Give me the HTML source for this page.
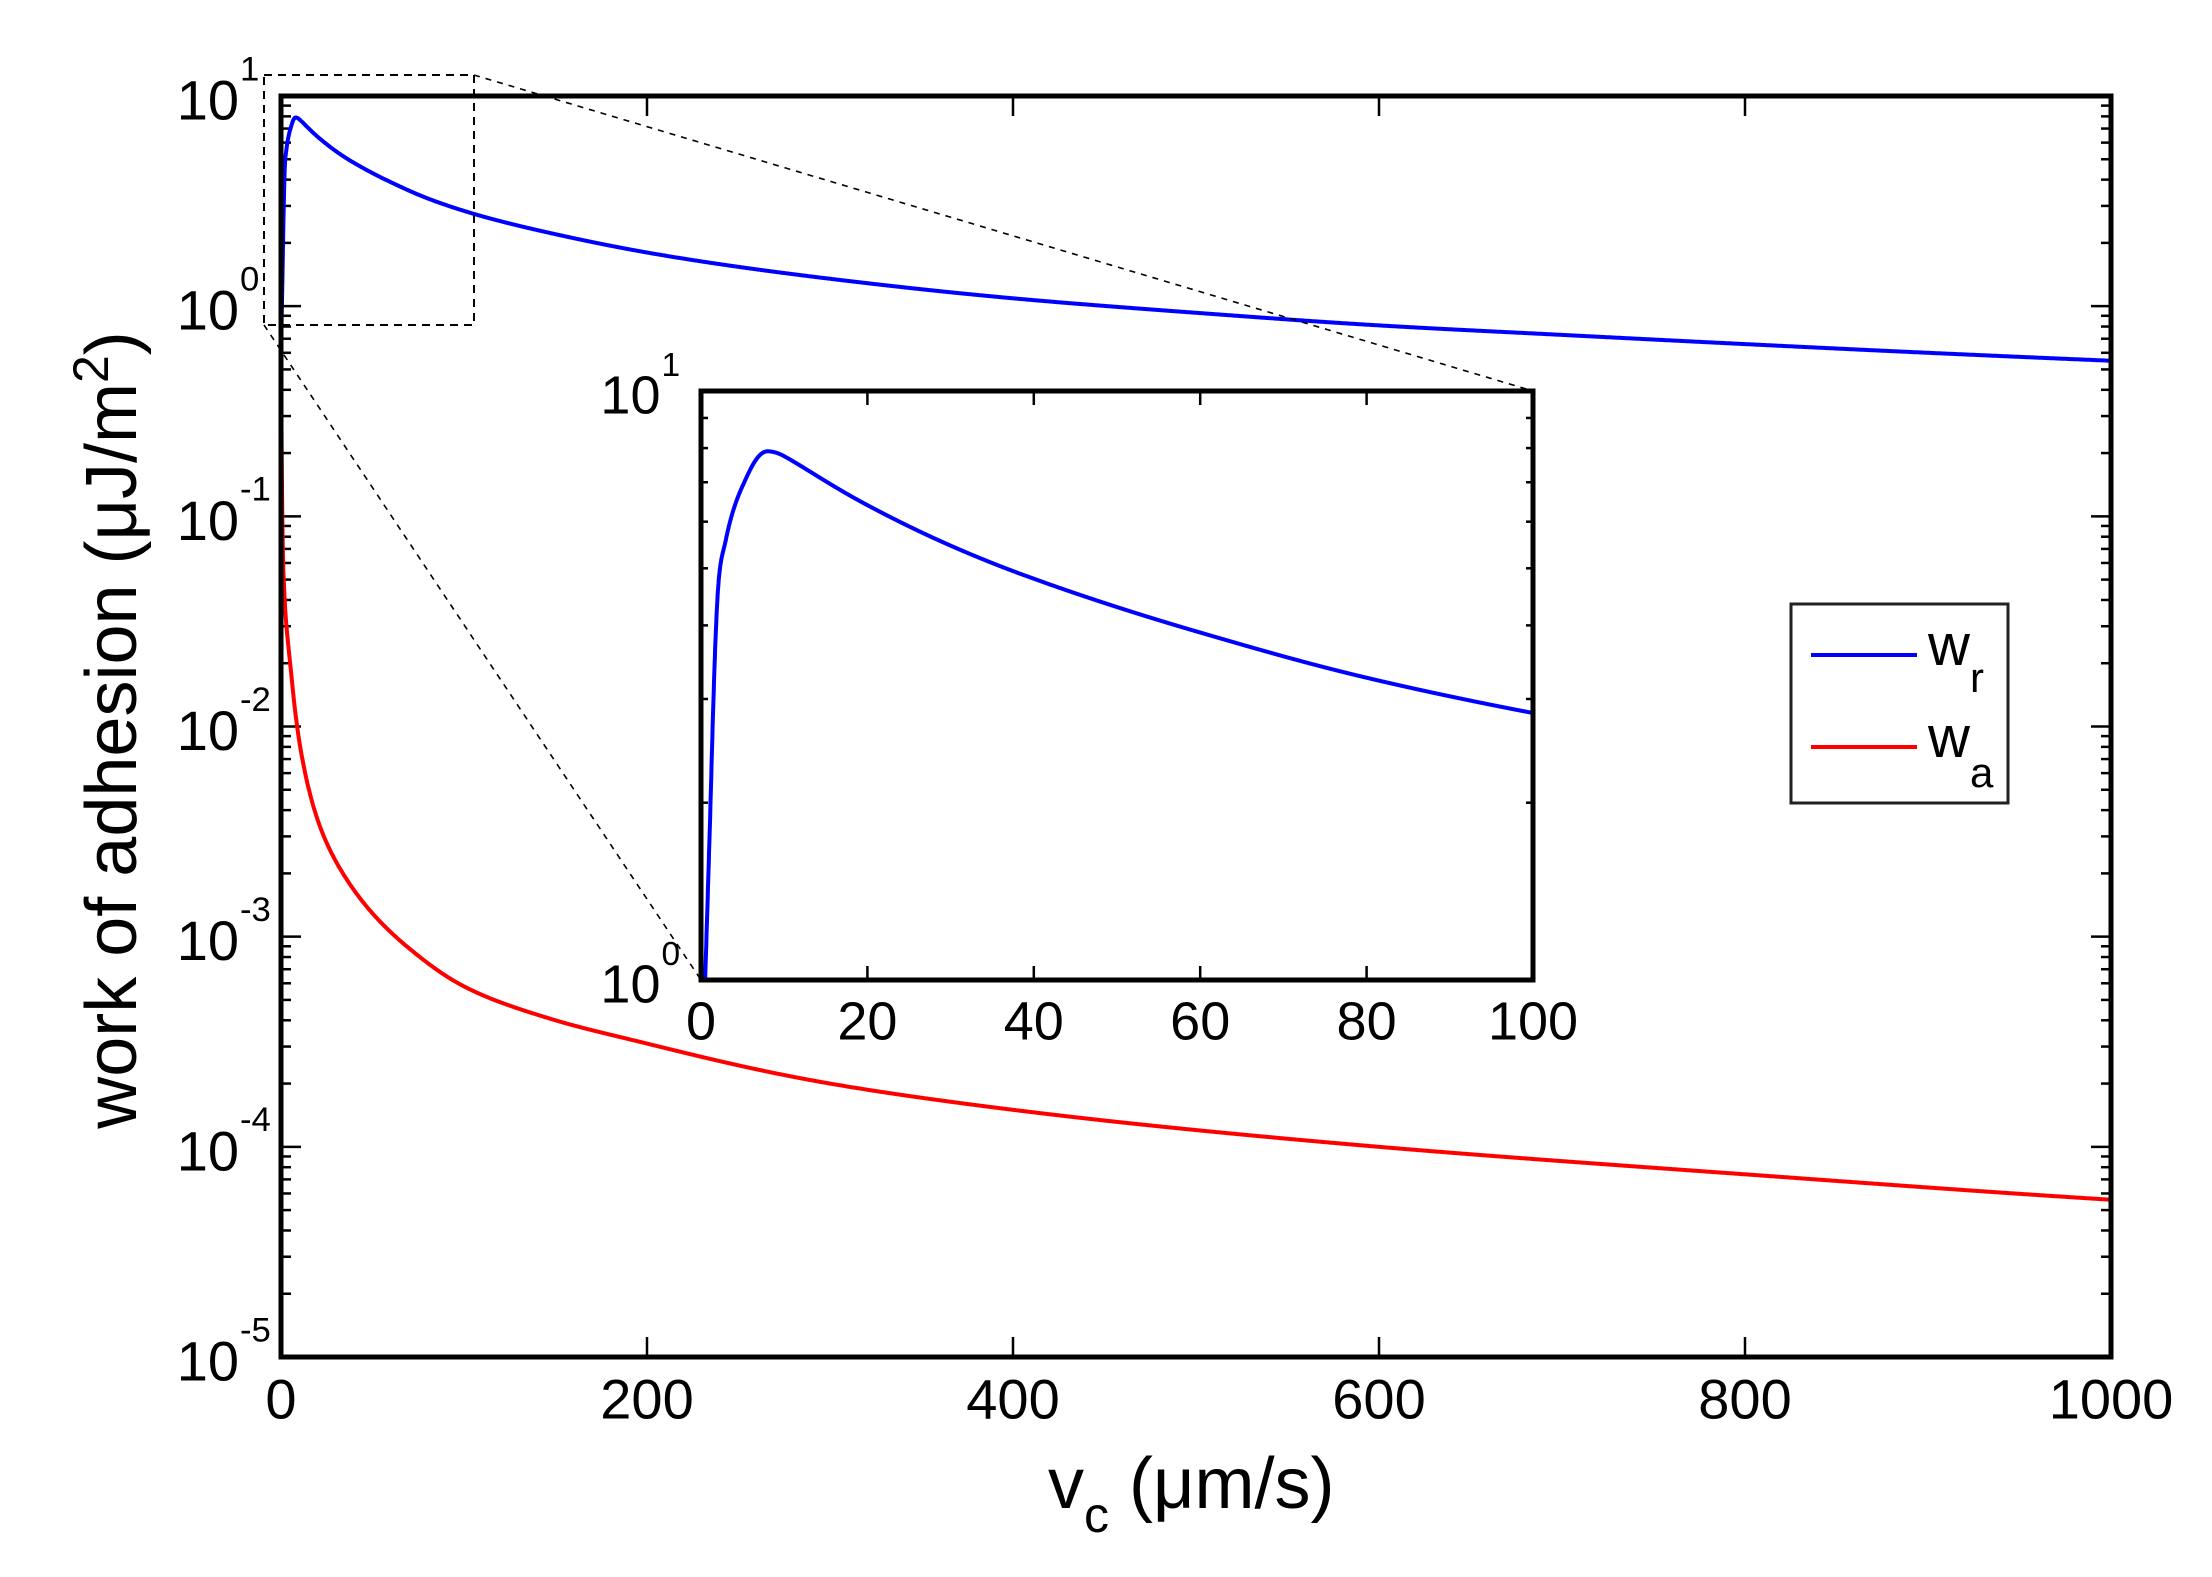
<!DOCTYPE html>
<html><head><meta charset="utf-8"><style>
html,body{margin:0;padding:0;background:#fff;}
svg{display:block;font-family:"Liberation Sans",Arial,sans-serif;}
</style></head><body>
<svg id="s" width="2212" height="1577" viewBox="0 0 2212 1577" xmlns="http://www.w3.org/2000/svg">
<rect width="2212" height="1577" fill="#fff"/>
<g id="main"></g>
<rect x="264" y="75" width="210" height="250" fill="none" stroke="#000" stroke-width="2" stroke-dasharray="8,6"/>
<line x1="474" y1="75" x2="1533" y2="391" stroke="#000" stroke-width="1.6" stroke-dasharray="6,6"/>
<line x1="264" y1="325" x2="701" y2="980" stroke="#000" stroke-width="1.6" stroke-dasharray="6,6"/>
<g id="inset"></g>
<rect x="1791" y="604" width="217" height="199" fill="#fff" stroke="#222" stroke-width="3"/>
<line x1="1811" y1="655" x2="1917" y2="655" stroke="#0000ff" stroke-width="4"/>
<line x1="1811" y1="747" x2="1917" y2="747" stroke="#ff0000" stroke-width="4"/>
<text x="1928" y="665" font-size="58">w</text><text x="1970" y="692" font-size="42">r</text>
<text x="1928" y="757" font-size="58">w</text><text x="1970" y="787" font-size="42">a</text>
<text transform="translate(136,730) rotate(-90)" text-anchor="middle" font-size="72">work of adhesion (μJ/m<tspan dy="-28" font-size="50">2</tspan><tspan dy="28">)</tspan></text>
<text x="1048" y="1508" font-size="72">v<tspan dy="24" font-size="50">c</tspan><tspan dy="-24"> (μm/s)</tspan></text>
</svg>
<script>
var NS="http://www.w3.org/2000/svg";
function el(p,t,a,txt){var e=document.createElementNS(NS,t);for(var k in a)e.setAttribute(k,a[k]);if(txt!==undefined)e.textContent=txt;p.appendChild(e);return e;}
function mono(pts){
 var x=pts.map(function(p){return Math.log10(p[0]+1);}),y=pts.map(function(p){return Math.log10(p[1]);});
 var n=x.length,d=[],m=[];
 for(var i=0;i<n-1;i++)d.push((y[i+1]-y[i])/(x[i+1]-x[i]));
 m[0]=d[0];m[n-1]=d[n-2];
 for(var i=1;i<n-1;i++){m[i]=(d[i-1]*d[i]<=0)?0:(d[i-1]+d[i])/2;}
 for(var i=0;i<n-1;i++){if(d[i]==0){m[i]=m[i+1]=0;continue;}var a=m[i]/d[i],b=m[i+1]/d[i],s=a*a+b*b;if(s>9){var t=3/Math.sqrt(s);m[i]=t*a*d[i];m[i+1]=t*b*d[i];}}
 return function(v){var u=Math.log10(v+1);var i=0;while(i<n-2&&u>x[i+1])i++;
  var h=x[i+1]-x[i],t=(u-x[i])/h,t2=t*t,t3=t2*t;
  var r=(2*t3-3*t2+1)*y[i]+(t3-2*t2+t)*h*m[i]+(-2*t3+3*t2)*y[i+1]+(t3-t2)*h*m[i+1];return Math.pow(10,r);};}
var wr=mono([[0,0.6],[0.5,1.0],[1,1.7],[2,4.5],[3,5.6],[5,6.9],[8,7.9],[10,7.75],[20,6.4],[40,4.8],[60,3.89],[80,3.26],[100,2.84],[150,2.2],[200,1.8],[300,1.35],[400,1.09],[500,0.93],[600,0.81],[700,0.73],[800,0.66],[900,0.6],[1000,0.55]]);
var wa=mono([[0,0.7],[0.5,0.15],[1,0.07],[2,0.04],[5,0.02],[10,0.0085],[20,0.0036],[40,0.00166],[70,0.00088],[100,0.00058],[150,0.0004],[200,0.00031],[300,0.0002],[400,0.00015],[600,0.0001],[800,0.000074],[1000,0.000056]]);
function axes(g,L,R,T,B,xmax,dmin,dmax,xticks,fs,tl){
 var dec=(B-T)/(dmax-dmin);
 function X(v){return L+(R-L)*v/xmax;} function Y(w){return B-(Math.log10(w)-dmin)*dec;}
 xticks.forEach(function(v){var x=X(v);
  el(g,"line",{x1:x,y1:B,x2:x,y2:B-tl,stroke:"#000","stroke-width":2.5});
  el(g,"line",{x1:x,y1:T,x2:x,y2:T+tl,stroke:"#000","stroke-width":2.5});
  el(g,"text",{x:x,y:B+fs*1.1,"text-anchor":"middle","font-size":fs},String(v));});
 for(var d=dmin;d<=dmax;d++){var y=B-(d-dmin)*dec;
  el(g,"line",{x1:L,y1:y,x2:L+tl,y2:y,stroke:"#000","stroke-width":2.5});
  el(g,"line",{x1:R,y1:y,x2:R-tl,y2:y,stroke:"#000","stroke-width":2.5});
  el(g,"text",{x:L-fs*0.75,y:y+fs*0.42,"text-anchor":"end","font-size":fs},"10");
  el(g,"text",{x:L-fs*0.75+1,y:y-fs*0.28,"font-size":fs*0.62},String(d));
  if(d<dmax)for(var m=2;m<=9;m++){var ym=y-Math.log10(m)*dec;
   el(g,"line",{x1:L,y1:ym,x2:L+tl*0.5,y2:ym,stroke:"#000","stroke-width":2.5});
   el(g,"line",{x1:R,y1:ym,x2:R-tl*0.5,y2:ym,stroke:"#000","stroke-width":2.5});}}
 return {X:X,Y:Y};
}
function curve(g,f,S,xmax,col,lw,clipY){
 var d="",n=3000;
 for(var i=0;i<=n;i++){var v=xmax*i/n;var y=S.Y(f(v));if(clipY!==undefined)y=Math.min(y,clipY);d+=(i?"L":"M")+S.X(v).toFixed(1)+","+y.toFixed(1);}
 el(g,"path",{d:d,fill:"none",stroke:col,"stroke-width":lw,"stroke-linejoin":"round"});
}
var gm=document.getElementById("main");
var S=axes(gm,281,2111,96,1357,1000,-5,1,[0,200,400,600,800,1000],56,20);
curve(gm,wa,S,1000,"#ff0000",4);
curve(gm,wr,S,1000,"#0000ff",4);
el(gm,"rect",{x:281,y:96,width:1830,height:1261,fill:"none",stroke:"#000","stroke-width":5});
var gi=document.getElementById("inset");
el(gi,"rect",{x:701,y:391,width:832,height:589,fill:"#fff"});
var S2=axes(gi,701,1533,391,980,100,0,1,[0,20,40,60,80,100],54,14);
curve(gi,wr,S2,100,"#0000ff",4,980);
el(gi,"rect",{x:701,y:391,width:832,height:589,fill:"none",stroke:"#000","stroke-width":5});
</script>
</body></html>
